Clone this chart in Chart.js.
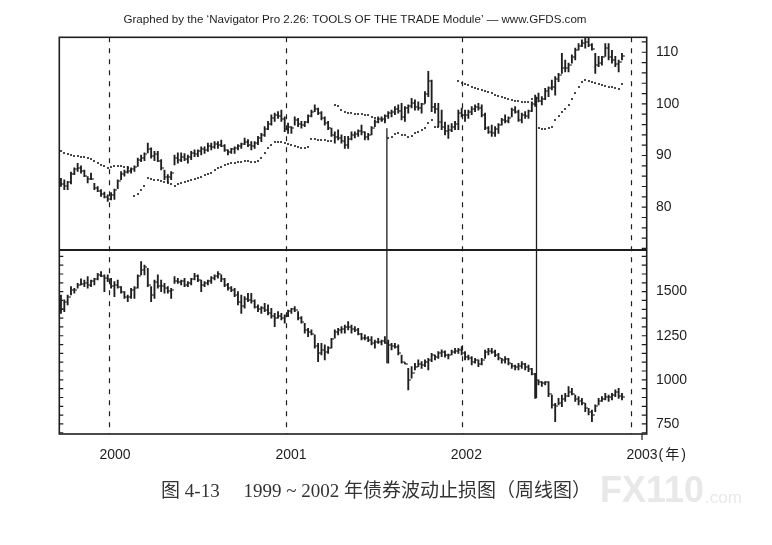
<!DOCTYPE html>
<html>
<head>
<meta charset="utf-8">
<script src="https://cdn.jsdelivr.net/npm/chart.js@4.4.1/dist/chart.umd.min.js"></script>
<style>
  html, body { margin: 0; padding: 0; background: #fff; }
  canvas { display: block; }
</style>
</head>
<body>
<canvas id="bondChart" width="772" height="545"></canvas>
<script>
// Weekly bond futures bars (top panel), Sep 1999 - Dec 2002
const topHigh = [
  85.6, 85.3, 85.0, 86.8, 87.6, 88.5, 88.0, 87.2, 85.9, 86.6,
  84.6, 84.0, 83.4, 82.9, 82.4, 82.8, 83.5, 85.3, 86.9, 87.2,
  87.9, 87.6, 88.0, 89.5, 90.1, 90.5, 92.4, 91.5, 90.8, 90.8,
  89.2, 87.2, 86.3, 86.9, 90.1, 90.5, 90.5, 90.4, 90.1, 90.8,
  91.1, 91.1, 91.7, 91.7, 92.4, 92.4, 92.7, 92.7, 93.0, 92.1,
  91.1, 91.4, 91.7, 92.1, 92.4, 93.4, 93.1, 92.7, 92.7, 93.7,
  94.3, 95.6, 96.6, 97.9, 98.2, 98.5, 98.8, 97.5, 96.3, 95.6,
  97.5, 97.2, 96.6, 96.6, 97.9, 98.8, 99.8, 99.2, 98.5, 97.5,
  96.6, 95.3, 94.6, 95.0, 94.0, 93.7, 93.7, 94.6, 94.6, 95.0,
  95.9, 94.6, 94.3, 95.6, 96.9, 97.5, 97.5, 97.9, 98.5, 98.8,
  99.5, 99.8, 100.1, 99.5, 99.8, 101.1, 100.8, 100.4, 100.1, 102.4,
  106.3, 104.6, 100.1, 100.1, 98.8, 96.5, 95.9, 96.2, 96.6, 98.8,
  99.2, 98.8, 98.8, 99.5, 99.8, 100.1, 99.8, 98.2, 95.6, 95.9,
  95.6, 96.2, 97.2, 97.9, 97.5, 99.2, 99.5, 98.8, 98.2, 98.5,
  98.8, 100.4, 101.7, 102.1, 101.4, 103.0, 103.3, 104.6, 105.3, 105.9,
  109.8, 108.5, 107.9, 109.5, 110.8, 111.7, 112.4, 113.0, 113.0, 111.7,
  109.8, 109.2, 109.2, 111.7, 111.7, 110.4, 109.2, 108.5, 109.8
];
const topLow = [
  84.0, 83.4, 83.4, 84.5, 86.3, 86.9, 86.6, 85.9, 84.7, 85.3,
  83.4, 83.0, 82.1, 81.8, 81.1, 81.4, 81.5, 83.6, 85.3, 86.0,
  86.6, 86.6, 86.9, 87.9, 88.8, 89.0, 90.5, 89.5, 89.0, 88.8,
  87.2, 85.3, 84.7, 85.3, 88.2, 88.5, 88.8, 89.0, 88.5, 89.2,
  89.8, 89.8, 90.1, 90.4, 90.8, 91.1, 91.4, 91.4, 91.7, 90.8,
  90.1, 90.4, 90.4, 91.1, 91.4, 92.1, 91.7, 91.1, 91.4, 92.1,
  92.7, 93.7, 95.0, 95.9, 96.6, 97.2, 96.6, 94.6, 94.3, 94.3,
  95.9, 95.6, 95.3, 95.6, 96.3, 97.5, 98.5, 97.9, 96.9, 95.9,
  95.0, 93.7, 92.4, 93.0, 92.4, 91.4, 91.4, 93.0, 93.4, 93.7,
  94.0, 93.0, 93.0, 94.0, 95.6, 96.3, 96.6, 96.3, 97.2, 97.5,
  97.9, 98.2, 96.9, 96.6, 98.2, 99.2, 98.8, 98.8, 98.2, 100.1,
  101.4, 98.5, 98.2, 95.6, 95.0, 94.0, 93.3, 94.6, 95.0, 95.0,
  97.5, 96.6, 97.2, 97.9, 98.5, 98.8, 97.5, 95.0, 94.3, 93.7,
  93.7, 94.3, 95.9, 96.3, 96.3, 97.5, 98.2, 96.6, 96.3, 97.2,
  97.2, 98.5, 99.5, 100.4, 99.8, 100.8, 101.4, 102.7, 101.7, 104.3,
  105.9, 106.2, 106.2, 107.9, 108.5, 110.4, 111.1, 110.8, 111.1, 110.4,
  105.9, 107.2, 107.5, 109.2, 108.5, 107.9, 107.2, 106.2, 108.5
];
const topClose = [
  84.5, 84.0, 84.8, 86.5, 87.4, 87.5, 87.0, 86.0, 85.5, 85.5,
  83.8, 83.2, 82.5, 82.0, 81.6, 82.4, 83.3, 85.0, 86.5, 86.8,
  87.0, 87.3, 87.8, 89.2, 89.5, 90.3, 91.2, 90.0, 90.2, 89.0,
  87.5, 85.8, 85.8, 86.7, 89.5, 89.2, 89.8, 89.3, 89.8, 90.5,
  90.3, 90.8, 91.2, 91.0, 91.8, 91.6, 92.2, 92.0, 91.9, 91.0,
  90.7, 91.2, 91.5, 91.9, 92.2, 92.6, 92.0, 91.9, 92.4, 93.3,
  94.0, 95.2, 96.2, 97.3, 97.8, 97.6, 97.0, 95.2, 95.5, 95.4,
  96.8, 96.2, 96.0, 96.4, 97.6, 98.5, 99.0, 98.3, 97.2, 96.3,
  95.3, 94.0, 93.6, 93.4, 92.8, 92.0, 93.2, 94.0, 94.2, 94.8,
  94.5, 93.6, 94.0, 95.3, 96.5, 97.0, 97.0, 97.6, 98.2, 98.4,
  99.0, 98.6, 97.4, 99.2, 99.6, 100.2, 99.4, 99.3, 99.9, 102.0,
  104.5, 99.4, 99.0, 96.5, 95.6, 94.8, 95.0, 95.6, 96.2, 98.2,
  97.8, 97.8, 98.4, 99.0, 99.4, 99.2, 97.8, 95.4, 94.6, 94.4,
  95.2, 95.9, 96.8, 96.6, 97.3, 98.8, 98.4, 96.9, 97.8, 97.6,
  98.6, 100.0, 101.2, 100.6, 101.0, 102.5, 103.0, 103.2, 104.8, 105.6,
  107.0, 107.0, 107.6, 109.0, 110.5, 111.2, 111.8, 112.0, 111.4, 110.6,
  107.5, 108.0, 109.0, 110.8, 109.0, 108.5, 107.8, 108.2, 109.2
];
// volatility stop (dotted), null where no dot is printed
const stopLine = [
  90.8, 90.4, 90.2, 90.1, 90.0, 89.9, 89.8, 89.7, 89.5, 89.4,
  89.0, 88.6, 88.2, 87.9, 87.6, 87.8, 88.0, 88.0, 87.9, 87.8,
  87.6, 87.2, 82.1, 82.5, 83.3, 84.0, 85.6, 85.5, 85.3, 85.2,
  85.0, 84.9, 84.7, 84.5, 84.1, 84.4, 84.6, 84.9, 85.1, 85.3,
  85.5, 85.7, 85.8, 86.2, 86.5, 86.7, 87.2, 87.6, 87.8, 88.2,
  88.3, 88.5, 88.6, 88.7, 88.8, 88.9, 89.0, 88.8, 88.8, 89.0,
  89.6, 90.5, 91.4, 92.0, 92.6, 92.7, 92.7, 92.5, 92.3, 92.1,
  91.9, 91.7, 91.5, 91.4, 91.6, 93.2, 93.2, 93.1, 93.0, 93.0,
  92.9, 92.9, 99.8, 99.5, 98.9, 98.5, 98.3, 98.2, 98.1, 98.1,
  98.0, 97.9, 97.8, 97.4, 97.2, 97.0, 96.9, 96.8, 93.3, 93.6,
  94.1, 94.3, 94.0, 93.9, 93.6, 93.8, 94.3, 94.6, 95.0, 95.3,
  96.3, 96.9, 95.6, 95.6, null, null, null, null, null, 104.5,
  104.1, 103.9, 103.6, 103.3, 103.0, 102.8, 102.6, 102.5, 102.4, 102.1,
  101.7, 101.5, 101.3, 101.1, 100.9, 100.7, 100.6, 100.5, 100.4, 100.4,
  100.4, 100.9, null, 95.3, 95.1, 95.2, 95.4, 95.6, 96.9, 97.6,
  98.5, 99.1, 99.8, 100.9, 102.2, 103.3, 104.3, 104.6, 104.5, 104.3,
  104.0, 103.8, 103.7, 103.5, 103.3, 103.2, 103.1, 102.9, 103.9
];

// Weekly stock index bars (bottom panel)
const botHigh = [
  1481, 1453, 1481, 1528, 1519, 1547, 1572, 1566, 1585, 1566,
  1576, 1604, 1614, 1595, 1595, 1576, 1557, 1566, 1528, 1500,
  1481, 1519, 1528, 1595, 1670, 1651, 1632, 1528, 1566, 1595,
  1566, 1547, 1528, 1519, 1585, 1576, 1566, 1576, 1557, 1576,
  1604, 1595, 1566, 1557, 1566, 1585, 1595, 1614, 1595, 1576,
  1547, 1528, 1519, 1500, 1481, 1472, 1491, 1490, 1453, 1425,
  1415, 1434, 1425, 1406, 1377, 1387, 1377, 1368, 1396, 1406,
  1415, 1387, 1358, 1321, 1292, 1283, 1255, 1207, 1207, 1198,
  1188, 1236, 1283, 1292, 1302, 1311, 1330, 1311, 1302, 1292,
  1264, 1255, 1245, 1245, 1226, 1236, 1226, 1245, 1226, 1207,
  1207, 1198, 1141, 1098, 1065, 1075, 1094, 1113, 1103, 1113,
  1122, 1150, 1141, 1160, 1170, 1165, 1146, 1169, 1179, 1179,
  1188, 1160, 1141, 1132, 1122, 1113, 1122, 1169, 1179, 1179,
  1169, 1150, 1122, 1132, 1122, 1094, 1084, 1094, 1103, 1094,
  1084, 1065, 1037, 1000, 990, 990, 990, 914, 867, 895,
  914, 924, 962, 952, 914, 905, 895, 867, 839, 829,
  858, 895, 905, 924, 914, 924, 943, 952, 924
];
const botLow = [
  1377, 1387, 1425, 1481, 1491, 1519, 1538, 1528, 1519, 1528,
  1538, 1566, 1585, 1500, 1557, 1519, 1472, 1519, 1491, 1462,
  1443, 1462, 1462, 1519, 1595, 1595, 1528, 1443, 1462, 1519,
  1500, 1491, 1491, 1462, 1547, 1547, 1538, 1528, 1528, 1538,
  1566, 1557, 1500, 1528, 1538, 1547, 1566, 1576, 1557, 1528,
  1509, 1500, 1472, 1425, 1377, 1406, 1443, 1434, 1406, 1387,
  1377, 1387, 1368, 1349, 1302, 1349, 1340, 1321, 1358, 1377,
  1387, 1340, 1321, 1264, 1245, 1255, 1179, 1103, 1141, 1113,
  1150, 1179, 1236, 1255, 1264, 1264, 1283, 1264, 1273, 1255,
  1226, 1226, 1217, 1198, 1179, 1207, 1198, 1207, 1094, 1170,
  1179, 1141, 1094, 1090, 943, 1009, 1056, 1075, 1065, 1075,
  1056, 1103, 1113, 1122, 1132, 1128, 1118, 1141, 1150, 1150,
  1141, 1113, 1113, 1084, 1094, 1075, 1084, 1122, 1141, 1150,
  1132, 1113, 1094, 1094, 1084, 1065, 1056, 1056, 1065, 1056,
  1047, 1028, 895, 971, 962, 971, 905, 839, 763, 858,
  848, 877, 905, 914, 877, 858, 858, 820, 801, 763,
  820, 858, 877, 886, 877, 886, 905, 895, 886
];
const botClose = [
  1400, 1440, 1470, 1510, 1510, 1540, 1545, 1550, 1540, 1560,
  1570, 1595, 1590, 1580, 1570, 1530, 1540, 1525, 1500, 1470,
  1470, 1510, 1520, 1590, 1620, 1640, 1540, 1480, 1555, 1530,
  1530, 1520, 1505, 1510, 1560, 1555, 1560, 1540, 1550, 1570,
  1590, 1565, 1540, 1550, 1560, 1575, 1590, 1600, 1570, 1540,
  1520, 1510, 1480, 1440, 1420, 1460, 1450, 1445, 1415, 1400,
  1410, 1395, 1380, 1360, 1350, 1360, 1350, 1360, 1390, 1400,
  1395, 1350, 1330, 1280, 1270, 1260, 1190, 1150, 1170, 1160,
  1180, 1230, 1270, 1280, 1290, 1300, 1300, 1290, 1280, 1260,
  1240, 1235, 1225, 1210, 1215, 1215, 1220, 1210, 1200, 1190,
  1185, 1150, 1100, 1092, 1000, 1040, 1075, 1090, 1085, 1100,
  1110, 1140, 1130, 1150, 1155, 1140, 1140, 1160, 1165, 1170,
  1150, 1130, 1125, 1100, 1110, 1090, 1110, 1160, 1165, 1160,
  1140, 1125, 1110, 1120, 1095, 1080, 1070, 1080, 1090, 1070,
  1060, 1035, 1000, 985, 980, 985, 920, 860, 850, 870,
  890, 910, 930, 920, 890, 880, 870, 840, 815, 800,
  850, 880, 890, 900, 905, 915, 930, 910, 900
];

// axis ticks
const topTicks = [80, 90, 100, 110];
const botTicks = [750, 1000, 1250, 1500];
const yearLabels = ['2000', '2001', '2002', '2003'];
const yearLineWeek = [14.5, 67.3, 120.0, 170.6];   // dashed year separators
const yearLabelWeek = [16.2, 68.9, 121.4, 174.0];

// signal lines joining the two panels
const signalWeek = [97.6, 142.4];
const signalTopValue = [95.3, 101.4];
const signalBottomValue = [1094, 895];

const ink = '#1e1e1e';
const week = topHigh.map((v, i) => i);

// little images used as point styles: close tick to the right, stop dot
const closeTick = document.createElement('canvas');
closeTick.width = 6; closeTick.height = 2;
let g = closeTick.getContext('2d');
g.fillStyle = ink; g.fillRect(3.4, 0.4, 2.4, 1.2);

const stopDot = document.createElement('canvas');
stopDot.width = 2; stopDot.height = 2;
g = stopDot.getContext('2d');
g.fillStyle = ink; g.fillRect(0, 0.2, 2, 1.6);

const sansFont = "'Liberation Sans', Arial, 'Noto Sans CJK SC', sans-serif";

// frame, dashed years, inner ticks, signal lines and texts
const panelDecor = {
  id: 'panelDecor',
  beforeDatasetsDraw(chart) {
    const { ctx, chartArea: a, scales: { x } } = chart;
    ctx.save();
    ctx.strokeStyle = ink;
    ctx.lineWidth = 1.2;
    ctx.setLineDash([5, 6]);
    yearLineWeek.forEach(w => {
      const px = Math.round(x.getPixelForValue(w)) + 0.5;
      ctx.beginPath();
      ctx.moveTo(px, a.top);
      ctx.lineTo(px, a.bottom);
      ctx.stroke();
    });
    ctx.restore();
  },
  afterDatasetsDraw(chart) {
    const { ctx, chartArea: a, scales: { x, yTop, yBot } } = chart;
    ctx.save();
    ctx.strokeStyle = ink;

    // signal lines
    ctx.lineWidth = 1.3;
    signalWeek.forEach((w, k) => {
      const px = x.getPixelForValue(w);
      ctx.beginPath();
      ctx.moveTo(px, yTop.getPixelForValue(signalTopValue[k]));
      ctx.lineTo(px, yBot.getPixelForValue(signalBottomValue[k]));
      ctx.stroke();
    });

    // inner tick marks
    ctx.lineWidth = 1.2;
    ctx.beginPath();
    for (let v = 72; v <= 112; v += 2) {
      const py = yTop.getPixelForValue(v);
      ctx.moveTo(a.right, py); ctx.lineTo(a.right - 5, py);
    }
    for (let v = 700; v <= 1700; v += 50) {
      const py = yBot.getPixelForValue(v);
      ctx.moveTo(a.right, py); ctx.lineTo(a.right - 5, py);
      ctx.moveTo(a.left, py); ctx.lineTo(a.left + 4, py);
    }
    ctx.stroke();

    // frame and panel divider
    ctx.lineWidth = 1.6;
    ctx.strokeRect(a.left, a.top, a.right - a.left, a.bottom - a.top);
    ctx.lineWidth = 2;
    ctx.beginPath();
    ctx.moveTo(a.left, yTop.bottom);
    ctx.lineTo(a.right, yTop.bottom);
    ctx.stroke();

    // year labels
    ctx.fillStyle = ink;
    ctx.font = '14px ' + sansFont;
    ctx.textBaseline = 'middle';
    yearLabels.forEach((t, k) => {
      const px = x.getPixelForValue(yearLabelWeek[k]);
      ctx.textAlign = 'center';
      ctx.fillText(t, px, 455);
      if (k === yearLabels.length - 1) {
        const half = ctx.measureText(t).width / 2;
        ctx.textAlign = 'left';
        ctx.letterSpacing = '2px';
        ctx.fillText('(年)', px + half + 1, 455);
        ctx.letterSpacing = '0px';
        ctx.lineWidth = 1.2;
        ctx.beginPath();
        ctx.moveTo(px, a.bottom);
        ctx.lineTo(px, a.bottom + 6);
        ctx.stroke();
      }
    });

    // header line
    ctx.textAlign = 'center';
    ctx.font = '11.6px ' + sansFont;
    ctx.fillText('Graphed by the \u2018Navigator Pro 2.26: TOOLS OF THE TRADE Module\u2019 \u2014 www.GFDS.com', 355, 20);

    // watermark
    ctx.fillStyle = '#e8e8e8';
    ctx.textAlign = 'left';
    ctx.font = 'bold 36px ' + sansFont;
    ctx.fillText('FX110', 600, 492);
    ctx.font = '17px ' + sansFont;
    ctx.fillText('.com', 705, 498);

    // caption
    ctx.fillStyle = '#333';
    ctx.textAlign = 'center';
    ctx.font = "19px 'Liberation Serif', 'Noto Sans CJK SC', serif";
    ctx.fillText('图 4-13     1999 ~ 2002 年债券波动止损图（周线图）', 376, 492);
    ctx.restore();
  }
};

const axisFont = { family: sansFont, size: 14 };
const plainLabel = v => String(v);

const ctx = document.getElementById('bondChart').getContext('2d');
const bondChart = new Chart(ctx, {
  type: 'bar',
  data: {
    datasets: [
      {
        type: 'bar', yAxisID: 'yTop', grouped: false, order: 3,
        data: week.map(i => ({ x: i, y: [topLow[i], topHigh[i]] })),
        backgroundColor: ink, barThickness: 1.2
      },
      {
        type: 'scatter', yAxisID: 'yTop', order: 2,
        data: week.map(i => ({ x: i, y: topClose[i] })),
        pointStyle: closeTick, pointRadius: 2
      },
      {
        type: 'scatter', yAxisID: 'yTop', order: 1,
        data: week.map(i => ({ x: i, y: stopLine[i] })),
        pointStyle: stopDot, pointRadius: 2
      },
      {
        type: 'bar', yAxisID: 'yBot', grouped: false, order: 3,
        data: week.map(i => ({ x: i, y: [botLow[i], botHigh[i]] })),
        backgroundColor: ink, barThickness: 1.2
      },
      {
        type: 'scatter', yAxisID: 'yBot', order: 2,
        data: week.map(i => ({ x: i, y: botClose[i] })),
        pointStyle: closeTick, pointRadius: 2
      }
    ]
  },
  options: {
    responsive: false,
    animation: false,
    events: [],
    layout: { padding: { left: 59.3, top: 37.3, right: 0, bottom: 111 } },
    plugins: { legend: { display: false }, tooltip: { enabled: false } },
    scales: {
      x: { type: 'linear', display: false, offset: false, min: -0.5, max: 175.4 },
      yTop: {
        type: 'linear', position: 'right', stack: 'panels', stackWeight: 212.7, weight: 1,
        min: 71.7, max: 112.9,
        afterBuildTicks: s => { s.ticks = topTicks.map(v => ({ value: v })); },
        afterFit: s => { s.width = 125.3; },
        grid: { display: false, drawTicks: false },
        border: { display: false },
        ticks: { color: ink, font: axisFont, padding: 9.3, callback: plainLabel }
      },
      yBot: {
        type: 'linear', position: 'right', stack: 'panels', stackWeight: 184, weight: 2,
        min: 693, max: 1736,
        afterBuildTicks: s => { s.ticks = botTicks.map(v => ({ value: v })); },
        afterFit: s => { s.width = 125.3; },
        grid: { display: false, drawTicks: false },
        border: { display: false },
        ticks: { color: ink, font: axisFont, padding: 9.3, callback: plainLabel }
      }
    }
  },
  plugins: [panelDecor]
});
</script>
</body>
</html>
